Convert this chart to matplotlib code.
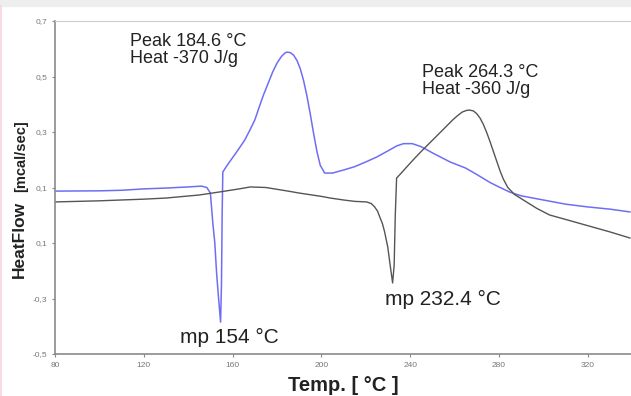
import numpy as np
import matplotlib
matplotlib.use("Agg")
import matplotlib.pyplot as plt
from matplotlib.patches import Rectangle
from matplotlib.lines import Line2D

# --- curves (temperature [°C], heat flow [mcal/sec]) ---
blue_t = [80, 100, 110, 120, 130, 140, 146, 148.4, 150, 151.1, 152, 152.8, 153.7,
          154.6, 155.0, 155.3, 155.6, 158, 162, 165.5, 168, 170, 172, 174, 176,
          178, 180, 182, 183.5, 184.6, 186, 187.5, 189, 190.5, 192, 193.5, 195,
          196.5, 198, 199.5, 201.5, 205, 210, 215, 220, 225, 230, 234, 237, 241,
          245, 250, 258, 265, 270, 276, 280, 285, 290, 300, 310, 320, 330, 339]
blue_q = [0.087, 0.088, 0.090, 0.095, 0.098, 0.102, 0.105, 0.100, 0.080, -0.028,
          -0.10, -0.208, -0.30, -0.385, -0.25, 0.0, 0.156, 0.185, 0.230, 0.271,
          0.31, 0.343, 0.39, 0.435, 0.475, 0.515, 0.548, 0.572, 0.584, 0.588,
          0.586, 0.577, 0.558, 0.528, 0.485, 0.43, 0.365, 0.295, 0.23, 0.18,
          0.152, 0.152, 0.163, 0.175, 0.192, 0.21, 0.232, 0.250, 0.258, 0.258,
          0.247, 0.225, 0.192, 0.170, 0.147, 0.118, 0.102, 0.083, 0.070, 0.055,
          0.040, 0.030, 0.022, 0.012]

black_t = [80, 100, 120, 130, 145, 155, 163, 168, 175, 185, 190, 200, 204, 210,
           215, 220.4, 222.5, 224, 225.3, 226.3, 227.5, 228.5, 229.9, 231, 232.1,
           232.8, 233.3, 233.9, 236, 238, 242, 245.6, 250, 255, 259.1, 261.5,
           263.5, 265.5, 266.8, 268.5, 270, 271.5, 273, 274.5, 276, 277.5, 279,
           280.5, 282, 284, 287, 292, 297, 302.8, 310, 322, 330, 339]
black_q = [0.048, 0.052, 0.058, 0.062, 0.073, 0.085, 0.095, 0.102, 0.100, 0.087,
           0.080, 0.068, 0.062, 0.055, 0.050, 0.048, 0.042, 0.030, 0.015, -0.006,
           -0.03, -0.06, -0.114, -0.18, -0.244, -0.18, 0.0, 0.134, 0.152, 0.17,
           0.205, 0.235, 0.27, 0.31, 0.343, 0.360, 0.372, 0.378, 0.379, 0.376,
           0.366, 0.350, 0.327, 0.298, 0.265, 0.230, 0.195, 0.160, 0.13, 0.10,
           0.075, 0.05, 0.025, 0.001, -0.015, -0.042, -0.060, -0.082]

x_ticks = [80, 120, 160, 200, 240, 280, 320]
y_ticks = [0.7, 0.5, 0.3, 0.1, -0.1, -0.3, -0.5]
y_tick_labels = ["0,7", "0,5", "0,3", "0,1", "0,1", "-0,3", "-0,5"]

plt.rcParams["font.family"] = ["Liberation Sans", "DejaVu Sans"]

fig = plt.figure(figsize=(6.31, 3.96), dpi=100)
# light grey strip at the top and faint pink edge on the left, as in the screenshot
fig.patches.append(Rectangle((0, 0.985), 1, 0.015, transform=fig.transFigure,
                             color="#eeeeee", zorder=0))
fig.lines.append(Line2D([0.002, 0.002], [0.0, 0.985], transform=fig.transFigure,
                        color="#f6d6dc", lw=1.2))

ax = fig.add_axes([55 / 631, 42 / 396, 1 - 55 / 631, 333 / 396])
ax.plot(blue_t, blue_q, color="#6e6ef4", lw=1.1)
ax.plot(black_t, black_q, color="#555555", lw=1.0)

ax.set_xlim(80, 339.5)
ax.set_ylim(-0.5, 0.7)
ax.set_xticks(x_ticks)
ax.set_xticklabels([str(t) for t in x_ticks])
ax.set_yticks(y_ticks)
ax.set_yticklabels(y_tick_labels)
ax.tick_params(labelsize=6, colors="#888888", labelcolor="#777777", length=2.5,
               width=0.8, pad=3)

for s in ("left", "bottom"):
    ax.spines[s].set_color("#8a8a8a")
    ax.spines[s].set_linewidth(1.2)
ax.spines["top"].set_color("#cccccc")
ax.spines["right"].set_visible(False)

ax.set_xlabel("Temp. [ °C ]", fontsize=14.5, fontweight="bold", color="#222222",
              labelpad=5)
fig.text(0.031, 1 - 239 / 396, "HeatFlow", rotation=90, fontsize=12.5,
         fontweight="bold", color="#222222", ha="center", va="center")
fig.text(0.034, 1 - 156 / 396, "[mcal/sec]", rotation=90, fontsize=10.5,
         fontweight="bold", color="#222222", ha="center", va="center")


def px(x_pix, y_pix):
    """Convert a pixel position of the reference into data coordinates."""
    return 80 + (x_pix - 55) / 2.222, 0.7 - (y_pix - 21) / 277.5


ax.text(*px(130, 33), "Peak 184.6 °C\nHeat -370 J/g", fontsize=13,
        color="#222222", va="top", ha="left", linespacing=1.0)
ax.text(*px(422, 64), "Peak 264.3 °C\nHeat -360 J/g", fontsize=13,
        color="#222222", va="top", ha="left", linespacing=1.0)
ax.text(*px(180, 337), "mp 154 °C", fontsize=15, color="#222222",
        va="center", ha="left")
ax.text(*px(385, 299), "mp 232.4 °C", fontsize=15, color="#222222",
        va="center", ha="left")

fig.savefig("out.png", dpi=100)
